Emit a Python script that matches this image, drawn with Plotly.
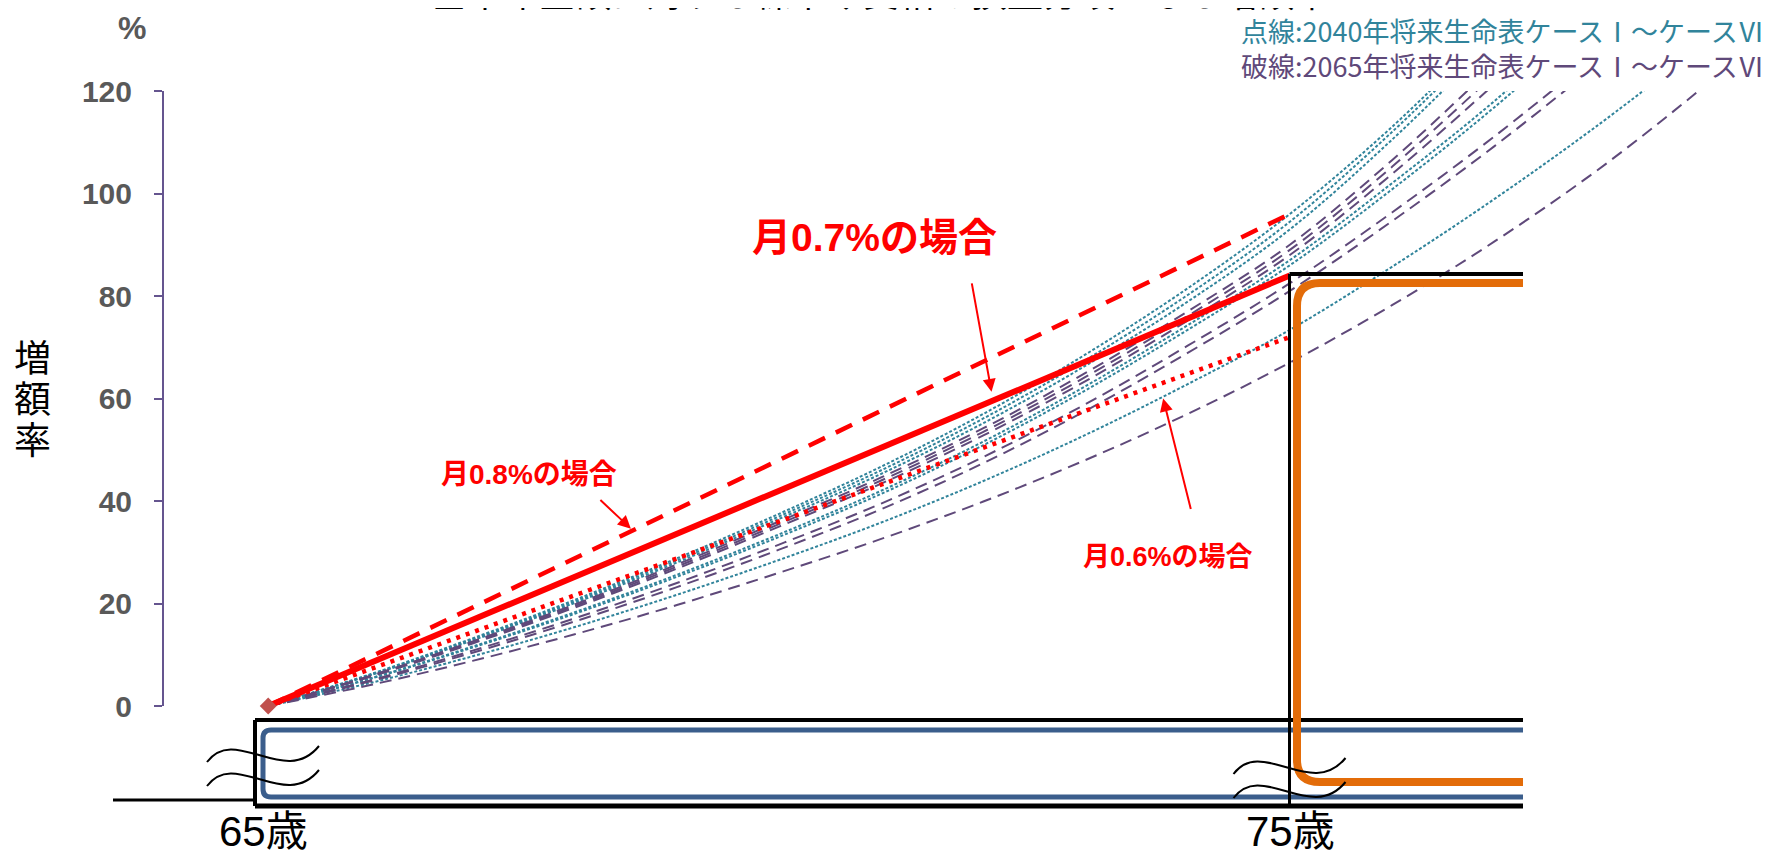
import plotly.graph_objects as go

# ── Data (increment rate %, by age) ─────────────────────────
AGE = [65, 66, 67, 68, 69, 70, 71, 72, 73, 74, 75, 76, 77, 78, 79, 80]

RATE_08 = [0, 9.6, 19.2, 28.8, 38.4, 48.0, 57.6, 67.2, 76.8, 86.4, 96.0]
RATE_07 = [0, 8.4, 16.8, 25.2, 33.6, 42.0, 50.4, 58.8, 67.2, 75.6, 84.0]
RATE_06 = [0, 7.2, 14.4, 21.6, 28.8, 36.0, 43.2, 50.4, 57.6, 64.8, 72.0]

# 2040 life tables, case I..VI (dotted)
LT2040 = [
    [0, 6.2, 13.2, 20.7, 28.8, 37.5, 46.7, 57.0, 68.6, 81.5, 96.0, 113.0, 132.5],
    [0, 6.1, 13.0, 20.4, 28.4, 37.0, 46.0, 56.1, 67.5, 80.2, 94.5, 112.0, 131.5],
    [0, 6.0, 12.8, 20.1, 28.0, 36.5, 45.3, 55.2, 66.4, 78.9, 93.0, 110.5, 130.0],
    [0, 5.4, 11.6, 18.3, 25.6, 33.5, 42.0, 51.6, 62.4, 74.3, 87.0, 102.0, 118.0, 136.0],
    [0, 5.3, 11.4, 18.0, 25.2, 33.0, 41.4, 50.9, 61.6, 73.4, 86.0, 100.8, 116.8, 134.3],
    [0, 4.5, 9.7, 15.4, 21.7, 28.5, 35.8, 43.9, 52.9, 62.8, 73.4, 85.7, 98.9, 113.1, 128.4],
]
# 2065 life tables, case I..VI (dashed)
LT2065 = [
    [0, 5.9, 12.6, 19.8, 27.6, 36.0, 44.6, 54.2, 65.0, 77.0, 90.0, 106.5, 125.0],
    [0, 5.8, 12.4, 19.5, 27.2, 35.5, 44.0, 53.5, 64.2, 76.1, 89.0, 105.2, 123.2],
    [0, 5.7, 12.2, 19.2, 26.8, 35.0, 43.4, 52.8, 63.4, 75.2, 88.0, 103.8, 121.3],
    [0, 5.0, 10.8, 17.1, 24.0, 31.5, 39.5, 48.6, 58.9, 70.3, 82.5, 96.3, 111.1, 127.1],
    [0, 4.8, 10.4, 16.5, 23.2, 30.5, 38.4, 47.4, 57.6, 68.9, 81.0, 94.6, 109.2, 125.0],
    [0, 4.1, 8.8, 14.0, 19.7, 26.0, 32.6, 39.9, 48.0, 57.0, 67.0, 78.2, 90.6, 104.4, 120.0, 137.0],
]

Y_TICKS = [0, 20, 40, 60, 80, 100, 120]

# ── Theme ───────────────────────────────────────────────────
COLORS = {
    "red": "#FF0000",
    "teal": "#31849B",
    "purple": "#5F497A",
    "axis": "#65558F",
    "tick": "#595959",
    "blue": "#3B5E8C",
    "orange": "#E36C09",
    "marker": "#C0504D",
}
JP = "Liberation Sans, Noto Sans CJK JP, sans-serif"
CJK = "Noto Sans CJK JP, sans-serif"

# page is 1769x857, the body has an 8px margin on top/left
OFF = 8
W, H = 1769 - OFF, 857 - OFF
L, R, T, B = 156, 0, 83, 151
PW, PH = W - L - R, H - T - B
X_RANGE = [63.98, 79.69]


def px(x):
    # page pixel -> paper
    return (x - OFF - L) / PW


def py(y):
    return (H - B - (y - OFF)) / PH


def pt(x, y):
    return f"{px(x):.5f},{py(y):.5f}"


fig = go.Figure()

for vals in LT2040:
    fig.add_trace(go.Scatter(
        x=AGE[:len(vals)], y=vals, mode="lines", line_shape="spline",
        line=dict(color=COLORS["teal"], width=2, dash="3px,2px"),
    ))
for vals in LT2065:
    fig.add_trace(go.Scatter(
        x=AGE[:len(vals)], y=vals, mode="lines", line_shape="spline",
        line=dict(color=COLORS["purple"], width=2, dash="12px,7px"),
    ))

fig.add_trace(go.Scatter(
    x=AGE[:len(RATE_06)], y=RATE_06, mode="lines",
    line=dict(color=COLORS["red"], width=4.5, dash="4px,6px"),
))
fig.add_trace(go.Scatter(
    x=AGE[:len(RATE_08)], y=RATE_08, mode="lines",
    line=dict(color=COLORS["red"], width=4.5, dash="18px,12px"),
))
fig.add_trace(go.Scatter(
    x=AGE[:len(RATE_07)], y=RATE_07, mode="lines",
    line=dict(color=COLORS["red"], width=6),
))
fig.add_trace(go.Scatter(
    x=[AGE[0]], y=[RATE_07[0]], mode="markers", cliponaxis=False,
    marker=dict(symbol="diamond", size=13, color=COLORS["marker"]),
))

# ── Decorative frame below the axis ─────────────────────────
shapes = []


def line(x0, y0, x1, y1, color, width):
    shapes.append(dict(type="line", xref="paper", yref="paper",
                       x0=px(x0), y0=py(y0), x1=px(x1), y1=py(y1),
                       line=dict(color=color, width=width)))


def path(d, color, width):
    shapes.append(dict(type="path", xref="paper", yref="paper", path=d,
                       line=dict(color=color, width=width)))


X_END = 1523
# blue band
path(f"M {pt(X_END, 730)} L {pt(271, 730)} Q {pt(263, 730)} {pt(263, 738)} "
     f"L {pt(263, 789)} Q {pt(263, 797)} {pt(271, 797)} L {pt(X_END, 797)}",
     COLORS["blue"], 5)
# black frame
line(255, 720, X_END, 720, "black", 4)
line(255, 720, 255, 806, "black", 4)
line(255, 806, X_END, 806, "black", 5)
line(113, 800, 255, 800, "black", 3)
line(1289.5, 274, 1289.5, 806, "black", 3)
line(1289.5, 274, X_END, 274, "black", 4)
# orange step
path(f"M {pt(X_END, 283)} L {pt(1320, 283)} Q {pt(1297, 283)} {pt(1297, 306)} "
     f"L {pt(1297, 760)} Q {pt(1297, 782)} {pt(1320, 782)} L {pt(X_END, 782)}",
     COLORS["orange"], 8)

# wave break marks
for cx, cy in [(263, 754), (1289.5, 766)]:
    for dy in (0, 24):
        y = cy + dy
        path(f"M {pt(cx - 56, y + 8)} C {pt(cx - 28, y - 30)} "
             f"{pt(cx + 22, y + 34)} {pt(cx + 56, y - 8)}", "black", 2)

# ── Text ────────────────────────────────────────────────────
ann = []


def text(x, y, s, size, color="black", bold=False, xanchor="center",
         yanchor="middle", xref="paper", yref="paper", family=JP,
         align="center"):
    ann.append(dict(x=x, y=y, xref=xref, yref=yref, text=s, showarrow=False,
                    xanchor=xanchor, yanchor=yanchor, align=align,
                    font=dict(family=family, size=size, color=color,
                              weight="bold" if bold else "normal")))


def arrow(x, y, ax, ay):
    ann.append(dict(x=x, y=y, xref="x", yref="y", ax=ax, ay=ay, text="",
                    showarrow=True, arrowhead=2, arrowsize=1.3,
                    arrowwidth=2, arrowcolor=COLORS["red"]))


# title sits mostly above the page edge, as in the source image
text(px(880), py(17), "基本年金額に対する繰下げ受給の損益分岐となる増額率", 36,
     yanchor="bottom")
legend_txt = (
    f"<span style='color:{COLORS['teal']}'>点線:2040年将来生命表ケースⅠ～ケースⅥ</span><br>"
    f"<span style='color:{COLORS['purple']}'>破線:2065年将来生命表ケースⅠ～ケースⅥ</span>"
)
text(px(1767), py(OFF + 1), legend_txt, 27, COLORS["teal"],
     xanchor="right", yanchor="top", family=CJK, align="right")
text(px(132), py(28), "%", 32, COLORS["tick"], bold=True)
for i, ch in enumerate("増額率"):
    text(px(32), py(359 + 41 * i), ch, 37)
text(px(263), py(857), "65歳", 42, yanchor="bottom")
text(px(1290), py(857), "75歳", 42, yanchor="bottom")

text(70.93, 91.4, "月0.7%の場合", 39, COLORS["red"], True, xref="x", yref="y")
text(67.55, 45.1, "月0.8%の場合", 28, COLORS["red"], True, xref="x", yref="y")
text(73.81, 29.1, "月0.6%の場合", 27, COLORS["red"], True, xref="x", yref="y")
arrow(72.08, 61.3, -20, -110)
arrow(68.55, 34.6, -32, -30)
arrow(73.76, 60.0, 28, 112)

fig.update_layout(
    width=W, height=H,
    margin=dict(l=L, r=R, t=T, b=B),
    paper_bgcolor="white", plot_bgcolor="white",
    showlegend=False,
    shapes=shapes,
    annotations=ann,
    xaxis=dict(range=X_RANGE, visible=False, fixedrange=True),
    yaxis=dict(
        range=[0, 120], tickvals=Y_TICKS, ticks="outside", ticklen=8,
        tickwidth=2, tickcolor=COLORS["axis"], showline=True,
        linecolor=COLORS["axis"], linewidth=2, showgrid=False,
        zeroline=False, ticklabelstandoff=16,
        tickfont=dict(family="Liberation Sans", size=30,
                      color=COLORS["tick"], weight="bold"),
    ),
)

fig.write_html("out.html")
